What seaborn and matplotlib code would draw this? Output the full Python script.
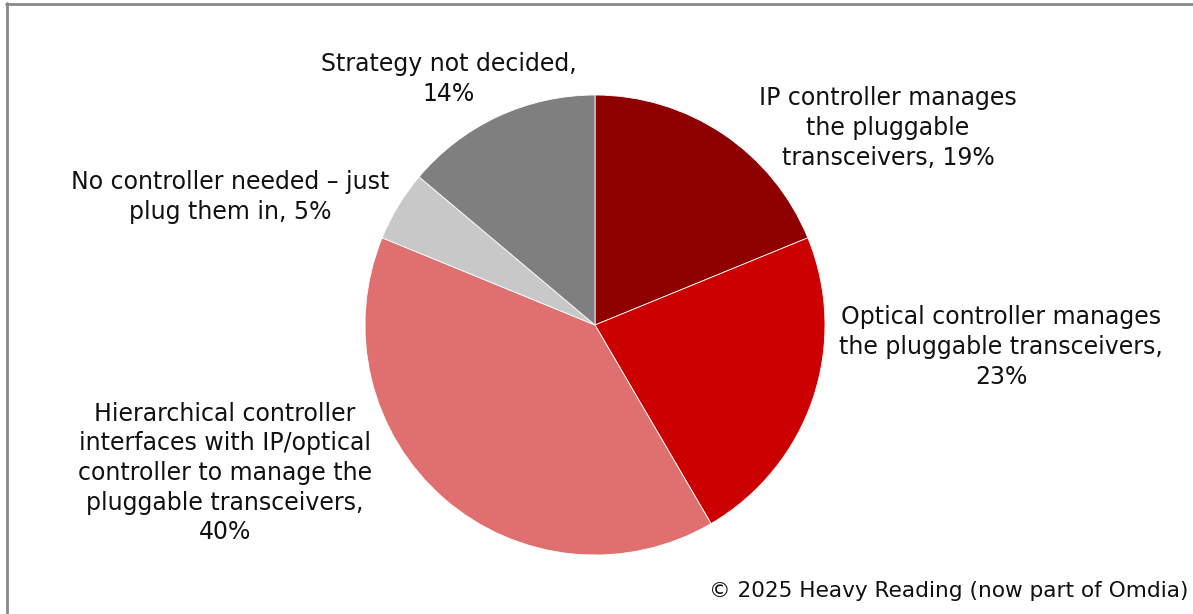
import matplotlib
matplotlib.use("Agg")
import matplotlib.pyplot as plt
from matplotlib.lines import Line2D
import seaborn as sns

sns.set_theme(style="white")
plt.rcParams["font.family"] = ["DejaVu Sans"]

# Survey response shares (%), clockwise from 12 o'clock
categories = [
    "IP controller manages\nthe pluggable\ntransceivers",
    "Optical controller manages\nthe pluggable transceivers,",
    "Hierarchical controller\ninterfaces with IP/optical\ncontroller to manage the\npluggable transceivers,",
    "No controller needed \u2013 just\nplug them in",
    "Strategy not decided,",
]
values = [19, 23, 40, 5, 14]
colors = ["#8f0000", "#cc0000", "#e06f6f", "#c8c8c8", "#7f7f7f"]

# Label text as drawn next to each slice
label_texts = [
    f"{categories[0]}, {values[0]}%",
    f"{categories[1]}\n{values[1]}%",
    f"{categories[2]}\n{values[2]}%",
    f"{categories[3]}, {values[3]}%",
    f"{categories[4]}\n{values[4]}%",
]

W, H = 1193, 614
fig = plt.figure(figsize=(W / 100, H / 100), dpi=100)
fig.patch.set_facecolor("white")

# Pie axes: centre (595, 325) px, radius 230 px
cx, cy, r = 595, 325, 230
ax = fig.add_axes([(cx - r) / W, (H - cy - r) / H, 2 * r / W, 2 * r / H])
ax.pie(values, colors=colors, startangle=90, counterclock=False, radius=1,
       wedgeprops=dict(edgecolor="white", linewidth=0.6))
ax.set_xlim(-1, 1)
ax.set_ylim(-1, 1)
ax.set_aspect("equal")
ax.axis("off")

# Label anchor points (px, centre of text block)
label_pos = [(888, 128), (1001, 347), (225, 473), (230, 197), (449, 79)]
for txt, (x, y) in zip(label_texts, label_pos):
    fig.text(x / W, 1 - y / H, txt, ha="center", va="center",
             fontsize=17, color="#111111", linespacing=1.3)

fig.text(1188 / W, 1 - 591 / H, "\u00a9 2025 Heavy Reading (now part of Omdia)",
         ha="right", va="center", fontsize=15.6, color="#111111")

# Frame lines along the top and left edges
fig.add_artist(Line2D([6 / W, 1], [1 - 3.5 / H, 1 - 3.5 / H],
                      transform=fig.transFigure, color="#8a8a8a", linewidth=2))
fig.add_artist(Line2D([7 / W, 7 / W], [0, 1 - 3 / H],
                      transform=fig.transFigure, color="#8a8a8a", linewidth=2))

fig.savefig("out.png", dpi=100, facecolor="white")
